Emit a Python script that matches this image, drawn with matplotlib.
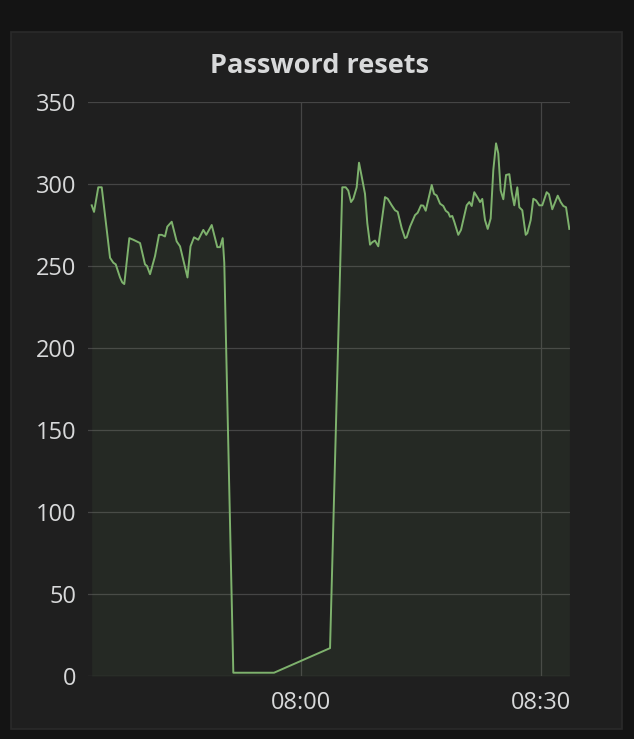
import numpy as np
import pandas as pd
import matplotlib
matplotlib.use("Agg")
import matplotlib.pyplot as plt
import matplotlib.dates as mdates
from matplotlib.patches import Rectangle

# minutes after 07:30
minutes = [3.84, 4.13, 4.66, 5.09, 6.13, 6.54, 6.84, 7.38, 7.66, 7.91,
           8.54, 9.04, 9.88, 10.5, 10.75, 11.13, 11.75, 12.25, 12.59, 13.0,
           13.29, 13.84, 14.46, 14.88, 15.81, 16.19, 16.63, 17.16, 17.79, 18.16,
           18.84, 19.54, 19.88, 20.21, 20.41, 21.54, 26.63, 33.63, 35.16, 35.59,
           35.91, 36.25, 36.54, 36.96, 37.25, 37.59, 38.0, 38.29, 38.63, 38.91,
           39.25, 39.66, 40.5, 40.84, 41.34, 41.75, 42.09, 42.59, 43.0, 43.21,
           43.63, 44.25, 44.59, 45.0, 45.29, 45.59, 46.34, 46.63, 46.96, 47.38,
           47.79, 48.09, 48.41, 48.63, 48.91, 49.16, 49.66, 50.0, 50.71, 51.04,
           51.34, 51.66, 52.16, 52.38, 52.66, 53.0, 53.34, 53.71, 54.04, 54.38,
           54.66, 54.96, 55.29, 55.63, 56.04, 56.34, 56.66, 57.04, 57.29, 57.66,
           58.09, 58.29, 58.71, 59.04, 59.38, 59.79, 60.16, 60.71, 61.0, 61.41,
           62.09, 62.46, 62.79, 63.13, 63.54]
resets = [287, 283, 298, 298, 255, 252, 251, 243, 240, 239,
          267, 266, 264, 251, 250, 245, 256, 269, 269, 268,
          274, 277, 265, 262, 243, 262, 267.5, 266, 272, 269,
          275, 261.5, 261.5, 267, 252, 2, 2, 17, 298, 298,
          296, 289, 291, 298, 313, 304.5, 294, 276, 263, 264.5,
          265.5, 262, 292, 291, 287, 284, 283, 273, 267, 267.5,
          274, 281, 282.5, 287, 286.8, 283.7, 299.4, 294, 293, 288,
          286.6, 283.7, 282.5, 280, 280.5, 277, 269, 272, 287, 289,
          286.6, 295, 291, 289, 290.9, 278, 272.6, 279, 308.6, 324.8,
          318.7, 296, 290.7, 305.5, 306, 295, 287, 298, 285.8, 284,
          269, 270, 278, 291, 290, 287, 287, 295, 293.7, 284.6,
          292.9, 289, 286.6, 285.8, 272.6]
y_ticks = [0, 50, 100, 150, 200, 250, 300, 350]
x_ticks = ["08:00", "08:30"]

start = pd.Timestamp("2017-01-01 07:30")
times = start + pd.to_timedelta(minutes, unit="m")

text_color = "#d8d9da"
grid_color = "#454545"
line_color = "#7eb26d"

fig = plt.figure(figsize=(6.34, 7.39), dpi=100, facecolor="#141414")
fig.patches.append(Rectangle((11 / 634, 1 - 729 / 739), 611 / 634, 697 / 739,
                             transform=fig.transFigure, facecolor="#1f1f1f",
                             edgecolor="#2a2a2a", linewidth=1.2, zorder=-5))

ax = fig.add_axes([88 / 634, 1 - 676 / 739, 482 / 634, 574 / 739])
ax.set_facecolor("none")

ax.fill_between(times, resets, 0, color=line_color, alpha=0.07, linewidth=0)
ax.plot(times, resets, color=line_color, linewidth=1.4)

ax.set_ylim(0, 350)
ax.set_yticks(y_ticks)
ax.set_xlim(start + pd.Timedelta(minutes=3.375), start + pd.Timedelta(minutes=63.625))
ax.set_xticks([pd.Timestamp("2017-01-01 " + t) for t in x_ticks])
ax.xaxis.set_major_formatter(mdates.DateFormatter("%H:%M"))

for s in ax.spines.values():
    s.set_visible(False)
ax.grid(True, color=grid_color, linewidth=0.9)
ax.set_axisbelow(True)
ax.tick_params(length=0, labelsize=17, labelcolor=text_color)
ax.tick_params(axis="y", pad=8.5)
ax.tick_params(axis="x", pad=11)
for lab in ax.get_xticklabels() + ax.get_yticklabels():
    lab.set_fontfamily("Open Sans")

fig.text(319.5 / 634, 1 - 73 / 739, "Password resets", ha="center", va="baseline",
         fontsize=19.5, fontweight="bold", color=text_color, fontfamily="Open Sans")

fig.savefig("out.png", dpi=100, facecolor=fig.get_facecolor())
